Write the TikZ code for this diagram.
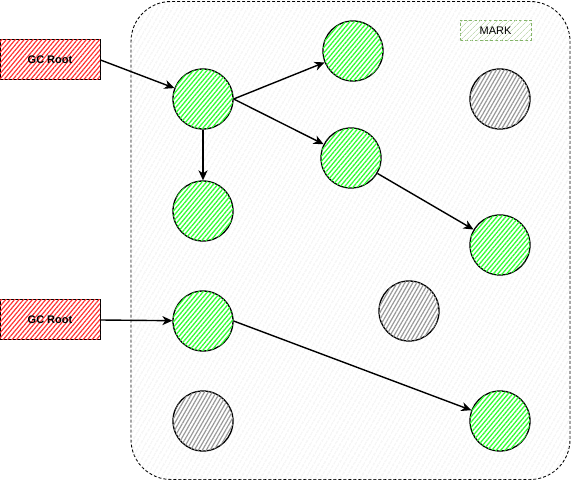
\documentclass[tikz,border=0pt]{standalone}
\usepackage{fontspec}
\setmainfont{Liberation Sans}
\usetikzlibrary{patterns.meta,arrows.meta}
\definecolor{hgreen}{HTML}{33FF33}
\definecolor{hred}{HTML}{FF3333}
\definecolor{hgray}{HTML}{999999}
\definecolor{hbg}{HTML}{E6E6E6}
\definecolor{mk}{HTML}{82B366}
\tikzset{
  obj/.style={circle, minimum size=60pt, inner sep=0pt, draw=black, line width=1.3pt, fill=white},
  live/.style={obj, postaction={pattern={Lines[angle=50,distance=3.4pt,line width=1.3pt]}, pattern color=hgreen}},
  dead/.style={obj, postaction={pattern={Lines[angle=60,distance=3.4pt,line width=1.2pt]}, pattern color=hgray}},
  root/.style={rectangle, minimum width=100pt, minimum height=40pt, inner sep=0pt, draw=black, line width=1pt, fill=white,
     postaction={pattern={Lines[angle=50,distance=3.4pt,line width=1.2pt]}, pattern color=hred},
     font=\fontsize{11}{13}\selectfont\bfseries},
  ref/.style={-{Stealth[length=10pt,width=9pt,inset=3pt]}, line width=1.4pt, black},
}
\begin{document}
\begin{tikzpicture}[x=1pt,y=-1pt]
\useasboundingbox (0,0) rectangle (571,481);
% heap area
\node[draw=black, dash pattern=on 3pt off 2pt, line width=0.9pt, rounded corners=40pt, minimum width=439pt, minimum height=478pt, inner sep=0pt,
  fill=white, postaction={pattern={Lines[angle=60,distance=4pt,line width=0.7pt]}, pattern color=hbg}] (heap) at (350.5,240.5) {};
% legend
\node[draw=mk, dash pattern=on 3pt off 2pt, line width=0.9pt, minimum width=71pt, minimum height=20pt, inner sep=0pt,
  fill=white, postaction={pattern={Lines[angle=45,distance=4pt,line width=0.7pt]}, pattern color=mk!45},
  font=\fontsize{11}{13}\selectfont] (mark) at (495.5,30.5) {MARK};
% roots
\node[root] (r1) at (50,60) {GC Root};
\node[root] (r2) at (50,320) {GC Root};
% objects
\node[live] (a) at (203,99) {};
\node[live] (b) at (353,51) {};
\node[live] (c) at (351,158) {};
\node[live] (d) at (203,211) {};
\node[dead] (e) at (500,99) {};
\node[live] (f) at (500,245) {};
\node[dead] (g) at (409,311) {};
\node[live] (h) at (203,321) {};
\node[dead] (i) at (203,421) {};
\node[live] (j) at (500,421) {};
% references
\draw[ref] (r1.east) -- (a);
\draw[ref] (a.east) -- (b);
\draw[ref] (a.east) -- (c);
\draw[ref] (a) -- (d);
\draw[ref] (c) -- (f);
\draw[ref] (r2.east) -- (h);
\draw[ref] (h.east) -- (j);
\end{tikzpicture}
\end{document}
